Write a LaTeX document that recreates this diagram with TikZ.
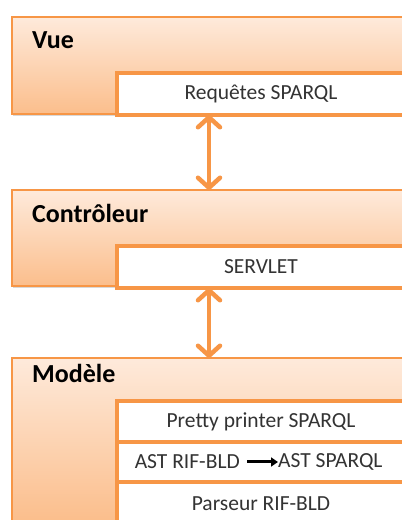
\documentclass[tikz,border=0pt]{standalone}
\usepackage{fontspec}
\setmainfont{Carlito}
\usetikzlibrary{arrows.meta,shadows}
\definecolor{orangeline}{HTML}{F79646}
\definecolor{peachtop}{HTML}{FEEADB}
\definecolor{peachbot}{HTML}{FBBE8C}
\begin{document}
\begin{tikzpicture}[x=1pt,y=1pt,
    layer/.style={draw=orangeline,line width=2pt,top color=peachtop,bottom color=peachbot,
      drop shadow={shadow xshift=1pt,shadow yshift=-2pt,opacity=.3},
      minimum width=394pt,inner sep=0pt,outer sep=0pt},
    part/.style={draw=orangeline,line width=4pt,fill=white,minimum width=288pt,
      inner sep=0pt,outer sep=0pt,font=\fontsize{21.5}{25}\selectfont,text=black!80},
    title/.style={anchor=base west,inner sep=0pt,font=\fontsize{26}{31}\selectfont\bfseries},
    link/.style={draw=orangeline,line width=4.5pt,
      {Straight Barb[round,length=10pt,width=22pt]}-{Straight Barb[round,length=10pt,width=22pt]}}]
  \useasboundingbox (0,0) rectangle (402,520);
  \clip (0,0) rectangle (402,520);
  \fill[white] (0,0) rectangle (402,520);
  % layers
  \node[layer,minimum height=97pt] (vue) at (209,454.5) {};
  \node[layer,minimum height=96pt] (ctrl) at (209,282) {};
  \node[layer,minimum height=163pt] (mod) at (209,80.5) {};
  \node[title] (tvue) at (32,471) {Vue};
  \node[title] (tctrl) at (32,297) {Contrôleur};
  \node[title] (tmod) at (32,137) {Modèle};
  % parts
  \node[part,minimum height=42pt] (req) at (261,426) {Requêtes SPARQL};
  \node[part,minimum height=42pt] (serv) at (261,253) {SERVLET};
  \node[part,minimum height=48pt] (pars) at (261,14) {};
  \node[part,minimum height=40pt] (ast) at (261,58) {};
  \node[part,minimum height=41pt] (pretty) at (261,98.5) {Pretty printer SPARQL};
  \node[font=\fontsize{21.5}{25}\selectfont,text=black!80] (tpars) at (261,16) {Parseur RIF-BLD};
  \node[anchor=east,inner sep=0pt,font=\fontsize{21.5}{25}\selectfont,text=black!80] (ast1) at (240,58) {AST RIF-BLD};
  \node[anchor=west,inner sep=0pt,font=\fontsize{21.5}{25}\selectfont,text=black!80] (ast2) at (278,58) {AST SPARQL};
  \draw[line width=3pt,-{Triangle[length=7pt,width=9pt]}] ([xshift=7pt]ast1.east) -- (ast2.west);
  % links
  \coordinate (ax) at (209,0);
  \draw[link] (req.south -| ax) -- (ctrl.north -| ax);
  \draw[link] (serv.south -| ax) -- (mod.north -| ax);
\end{tikzpicture}
\end{document}
